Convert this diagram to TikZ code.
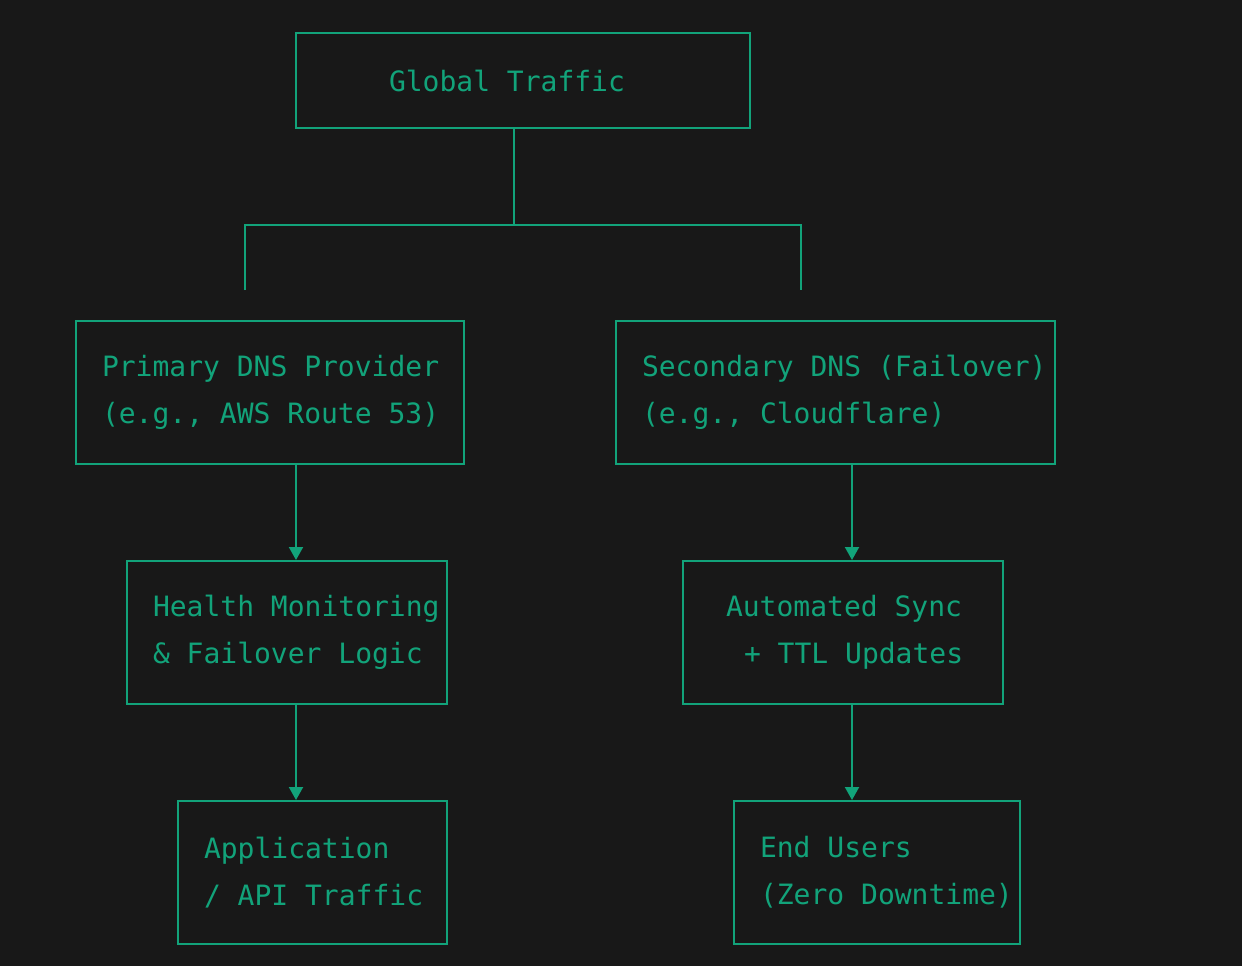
\documentclass[tikz,border=0pt]{standalone}
\usepackage{fontspec}
\newfontfamily\termfont{DejaVu Sans Mono}
\usetikzlibrary{arrows.meta}
\definecolor{bg}{HTML}{181818}
\definecolor{term}{HTML}{12A37A}
\newcommand\tline[1]{\mbox{\spaceskip=0.602em\relax #1}}
\begin{document}
\begin{tikzpicture}[x=1pt, y=-1pt, line width=2pt,
  box/.style = {draw=term, rectangle, minimum height=143, inner ysep=0, inner xsep=26,
    text=term, font=\termfont\fontsize{28}{47}\selectfont, align=left},
  arr/.style = {draw=term, -{Triangle[width=14,length=13]}}]
\fill[bg] (0,0) rectangle (1242,966);
\node[box, minimum width=454, minimum height=95, text width=402] (g) at (523,80.5) {\hspace*{67pt}\tline{Global Traffic}};
\node[box, minimum width=388, text width=336] (p) at (270,392.5) {\tline{Primary DNS Provider}\\\tline{(e.g., AWS Route 53)}};
\node[box, minimum width=439, text width=387] (s) at (835.5,392.5) {\tline{Secondary DNS (Failover)}\\\tline{(e.g., Cloudflare)}};
\node[box, minimum width=320, text width=268] (h) at (287,632.5) {\tline{Health Monitoring}\\\tline{\& Failover Logic}};
\node[box, minimum width=320, text width=268] (a) at (843,632.5) {\hspace*{17pt}\tline{Automated Sync}\\\hspace*{35pt}\tline{+ TTL Updates}};
\node[box, minimum width=269, text width=217] (app) at (312.5,872.5) {\tline{Application}\\\tline{/ API Traffic}};
\node[box, minimum width=286, text width=234] (e) at (877,872.5) {\tline{End Users}\\\tline{(Zero Downtime)}};
% fan out from the top box
\coordinate (j) at (514,225);
\coordinate (l) at (245,290);
\coordinate (r) at (801,290);
\draw[term] (g.south -| j) -- (j);
\draw[term] (l) |- (j) -| (r);
% left column
\draw[arr] ([xshift=26]p.south) -- ([xshift=9]h.north);
\draw[arr] ([xshift=9]h.south) -- ([xshift=-16.5]app.north);
% right column
\draw[arr] ([xshift=9]a.north |- s.south) -- ([xshift=9]a.north);
\draw[arr] ([xshift=9]a.south) -- ([xshift=-25]e.north);
\end{tikzpicture}
\end{document}
